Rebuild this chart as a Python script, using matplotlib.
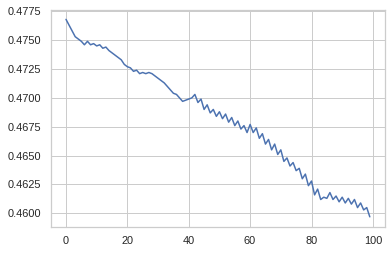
import matplotlib
matplotlib.use("Agg")
import matplotlib.pyplot as plt
import seaborn as sns

steps = list(range(100))
values = [
    0.4768, 0.4763, 0.4758, 0.4753, 0.4751, 0.4749, 0.4746, 0.4749, 0.4746, 0.4747,
    0.4745, 0.4746, 0.4743, 0.4744, 0.4741, 0.4739, 0.4737, 0.4735, 0.4733, 0.4729,
    0.4727, 0.4726, 0.4723, 0.4724, 0.4721, 0.4722, 0.4721, 0.4722, 0.4721, 0.4719,
    0.4717, 0.4715, 0.4713, 0.4710, 0.4707, 0.4704, 0.4703, 0.4700, 0.4697, 0.4698,
    0.4699, 0.4700, 0.4703, 0.4696, 0.4699, 0.4690, 0.4694, 0.4687, 0.4690, 0.4684,
    0.4688, 0.4682, 0.4686, 0.4679, 0.4683, 0.4676, 0.4680, 0.4673, 0.4676, 0.4670,
    0.4677, 0.4670, 0.4674, 0.4665, 0.4669, 0.4660, 0.4664, 0.4655, 0.4660, 0.4651,
    0.4655, 0.4645, 0.4648, 0.4641, 0.4644, 0.4637, 0.4639, 0.4630, 0.4634, 0.4624,
    0.4628, 0.4616, 0.4621, 0.4612, 0.4614, 0.4613, 0.4618, 0.4612, 0.4615, 0.4610,
    0.4614, 0.4609, 0.4613, 0.4608, 0.4612, 0.4605, 0.4609, 0.4603, 0.4605, 0.4597,
]

sns.set_theme(style="whitegrid")
plt.rcParams['font.family'] = ['Liberation Sans', 'DejaVu Sans']

W, H = 392, 253
DPI = 72
fig = plt.figure(figsize=(W / DPI, H / DPI), dpi=DPI)
left, right, top, bottom = 50.8, 385, 9.5, 226.7
ax = fig.add_axes([left / W, (H - bottom) / H, (right - left) / W, (bottom - top) / H])
ax.plot(steps, values)
ax.set_xticks([0, 20, 40, 60, 80, 100])
ax.set_yticks([0.4600, 0.4625, 0.4650, 0.4675, 0.4700, 0.4725, 0.4750, 0.4775])
ax.set_yticklabels(["0.4600", "0.4625", "0.4650", "0.4675", "0.4700", "0.4725", "0.4750", "0.4775"])

fig.savefig("out.png", dpi=DPI)
